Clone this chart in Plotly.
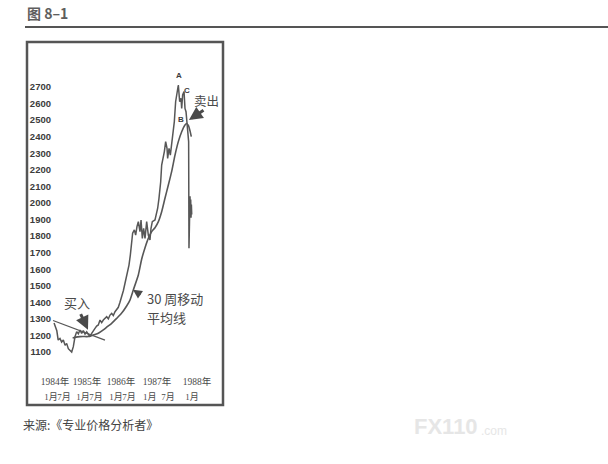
import plotly.graph_objects as go

# ---- data ----
# x = week index since Jan 1984 (as laid out in the picture)
price_weeks = [3, 5, 7, 9, 11.6, 14, 16.5, 19, 21.3, 23.7, 26.2, 28.6, 31, 33.4, 35.9, 38.3,
               40.7, 43.1, 45.5, 48, 50.4, 52.8, 55.2, 57.7, 60.1, 62.5, 64.9, 67.3, 69.8,
               72.2, 74.6, 77, 79.5, 81.9, 84.3, 86.7, 89.1, 91.6, 94, 96.4, 98.8, 101.3,
               103.7, 106.1, 108.5, 111.9, 113.9, 115.8, 117.2, 119.7, 121.6, 123.5, 125.5,
               127.9, 129.4, 131.3, 133.2, 135.2, 137.6, 140, 142.4, 143.9, 145.8, 149.7,
               153.6, 155.5, 158, 159.4, 161.8, 163.3, 165.2, 167.2, 168.1, 170.1, 172,
               173.9, 175.9, 177.8, 179.7, 181.7, 183.6, 185.6, 187.5, 188.5, 189.9, 191.9,
               193.3, 194.8, 196.2, 197.7, 198.6, 199.1, 200.0, 200.6, 201.1, 201.6, 202.1,
               202.6, 203.1]
price = [1275, 1250, 1228, 1172, 1182, 1160, 1172, 1140, 1152, 1120, 1112, 1100, 1132, 1192,
         1223, 1210, 1233, 1212, 1229, 1208, 1222, 1203, 1192, 1213, 1233, 1243, 1257, 1263,
         1293, 1277, 1293, 1303, 1313, 1300, 1323, 1333, 1320, 1343, 1354, 1370, 1400, 1430,
         1470, 1515, 1560, 1625, 1686, 1766, 1817, 1837, 1806, 1857, 1887, 1827, 1897, 1786,
         1847, 1786, 1887, 1806, 1776, 1847, 1887, 1897, 1968, 2028, 2128, 2229, 2269, 2310,
         2370, 2330, 2269, 2330, 2289, 2350, 2430, 2491, 2611, 2652, 2712, 2611, 2632, 2571,
         2652, 2672, 2571, 2551, 2491, 2430, 2370, 1726, 1870, 2040, 1920, 2020, 1910, 1990,
         1930]

ma_weeks = [30, 35, 40.7, 45, 50.4, 55.2, 60, 67.3, 74.6, 79.5, 86.7, 94, 101.3, 108.5, 113,
            118.2, 125.5, 130.3, 135.2, 140, 144.9, 149.7, 154.6, 159.4, 164.2, 169.1, 173.9,
            178.8, 183.6, 188.5, 193.3, 195.7, 198.2, 200.6, 202.5]
ma30 = [1185, 1190, 1193, 1194, 1193, 1195, 1203, 1213, 1233, 1250, 1273, 1303, 1335, 1378,
        1410, 1475, 1565, 1660, 1730, 1786, 1827, 1850, 1887, 1947, 2028, 2108, 2189, 2289,
        2370, 2430, 2471, 2480, 2468, 2435, 2400]

trend_weeks = [1.5, 77]
trend_vals = [1290, 1172]

y_ticks = [1100, 1200, 1300, 1400, 1500, 1600, 1700, 1800, 1900, 2000, 2100, 2200, 2300,
           2400, 2500, 2600, 2700]
month_tick_pos = [-1.5, 17.4, 45, 64, 93, 112, 142, 168.6, 203.5]
month_tick_text = ["1月", "7月", "1月", "7月", "1月", "7月", "1月", "7月", "1月"]
year_tick_pos = [4.4, 50.9, 100.3, 152.6, 210.8]
year_tick_text = ["1984年", "1985年", "1986年", "1987年", "1988年"]

W, H = 608, 464
def px(x):
    return x / W
def py(y):
    return 1 - y / H

LINE = "#575757"
TXT = "#4a4a4a"
CJK = "Noto Sans CJK SC"
SERIF = "Liberation Serif, Noto Sans CJK SC"

fig = go.Figure()
fig.add_trace(go.Scatter(x=trend_weeks, y=trend_vals, mode="lines",
                         line=dict(color=LINE, width=1.2), hoverinfo="skip"))
fig.add_trace(go.Scatter(x=ma_weeks, y=ma30, mode="lines",
                         line=dict(color=LINE, width=1.6, shape="spline", smoothing=0.6),
                         hoverinfo="skip"))
fig.add_trace(go.Scatter(x=price_weeks, y=price, mode="lines",
                         line=dict(color=LINE, width=1.5), hoverinfo="skip"))
fig.add_trace(go.Scatter(x=[], y=[], xaxis="x2", yaxis="y", mode="lines", hoverinfo="skip"))

xrange = [(40 - 52) / 0.688, (222 - 52) / 0.688]
fig.update_layout(
    width=W, height=H,
    margin=dict(l=0, r=0, t=0, b=0),
    paper_bgcolor="white", plot_bgcolor="rgba(0,0,0,0)",
    showlegend=False,
    xaxis=dict(domain=[px(40), px(222)], range=xrange, anchor="free", position=py(390),
               showgrid=False, zeroline=False, showline=False, ticks="", tickangle=0,
               tickmode="array", tickvals=month_tick_pos, ticktext=month_tick_text,
               tickfont=dict(family=SERIF, size=9, color=TXT)),
    xaxis2=dict(domain=[px(40), px(222)], range=xrange, overlaying="x", anchor="free",
                position=py(374), showgrid=False, zeroline=False, showline=False, ticks="",
                tickangle=0,
                tickmode="array", tickvals=year_tick_pos, ticktext=year_tick_text,
                tickfont=dict(family=SERIF, size=9.5, color=TXT)),
    yaxis=dict(domain=[py(370), py(60)], range=[991.3, 2862.95], anchor="free",
               position=px(51), showgrid=False, zeroline=False, showline=False, ticks="",
               tickmode="array", tickvals=y_ticks, ticktext=[str(v) for v in y_ticks],
               tickfont=dict(family="Liberation Sans", size=9.5, color="#3c3c3c",
                             weight="bold")),
)

# frame and title rule
fig.add_shape(type="rect", xref="paper", yref="paper", x0=px(27), x1=px(223),
              y0=py(405), y1=py(42), line=dict(color="#555555", width=2.5))
fig.add_shape(type="line", xref="paper", yref="paper", x0=px(25), x1=1,
              y0=py(27), y1=py(27), line=dict(color="#555555", width=2))

def ptext(x, y, text, size, color=TXT, family=CJK, xanchor="left", weight="normal"):
    fig.add_annotation(xref="paper", yref="paper", x=px(x), y=py(y), text=text,
                       showarrow=False, xanchor=xanchor, yanchor="middle",
                       font=dict(family=family, size=size, color=color, weight=weight))

ptext(25, 13, "图 8–1", 14, color="#5e5e5e", weight="bold")
ptext(21, 424, "来源:《专业价格分析者》", 12, color="#444444")
ptext(412, 426, "FX110", 22, color="#e6e6e6", family="Liberation Sans", weight="bold")
ptext(479, 431, ".com", 12, color="#e6e6e6", family="Liberation Sans")

# in-chart labels
ptext(179, 76, "A", 8, color="#3c3c3c", family="Liberation Sans", xanchor="center", weight="bold")
ptext(187, 90, "C", 8, color="#3c3c3c", family="Liberation Sans", xanchor="center", weight="bold")
ptext(181, 119, "B", 8, color="#3c3c3c", family="Liberation Sans", xanchor="center", weight="bold")
ptext(192, 101, "卖出", 12.5)
ptext(62, 302, "买入", 13)
ptext(145, 298, "30 周移动", 13)
ptext(145, 317, "平均线", 13)

def arrow(xw, yv, ax, ay, width, size):
    fig.add_annotation(x=xw, y=yv, xref="x", yref="y", text="", showarrow=True,
                       ax=ax, ay=ay, arrowhead=2, arrowsize=size, arrowwidth=width,
                       arrowcolor="#4a4a4a")

arrow(199.1, 2500, 16, -11, 3, 0.9)
arrow(52.3, 1235, -8, -17, 3, 0.9)
arrow(117.7, 1476, 9, 6, 1.5, 1.2)

fig.write_html("out.html", config={"displayModeBar": False},
               post_script="document.body.style.margin='0px';")
